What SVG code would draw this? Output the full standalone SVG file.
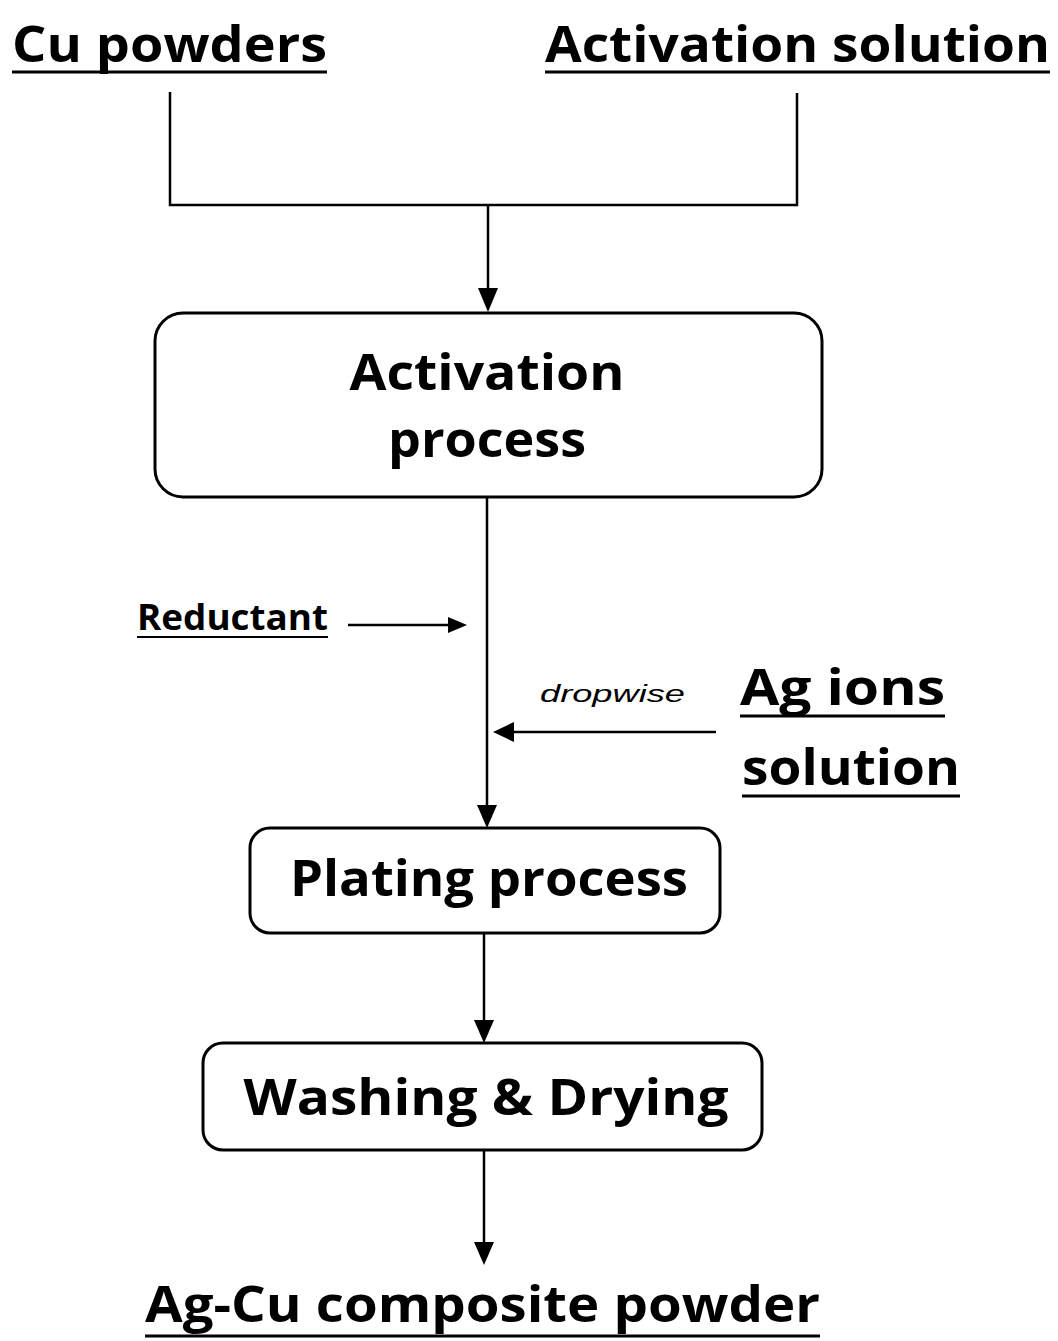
<svg xmlns="http://www.w3.org/2000/svg" width="1058" height="1341" viewBox="0 0 1058 1341">
<style>
.t{font-family:"Open Sans","Liberation Sans",sans-serif;font-weight:bold;fill:#000}
.u{stroke:#000;stroke-width:3;fill:none}
.box{fill:#fff;stroke:#000;stroke-width:3}
.ln{stroke:#000;stroke-width:2.5;fill:none}
</style>
<rect width="1058" height="1341" fill="#fff"/>
<g id="connectors">
<path class="ln" d="M170,92 V205 H797 V93"/>
<line class="ln" x1="488" y1="205" x2="488" y2="288"/>
<path d="M478,288 L498,288 L488,312 z"/>
<line class="ln" x1="487" y1="497" x2="487" y2="805"/>
<path d="M477,805 L497,805 L487,828 z"/>
<line class="ln" x1="348" y1="625" x2="448" y2="625"/>
<path d="M448,617 L467,625 L448,633 z"/>
<line class="ln" x1="716" y1="732" x2="514" y2="732"/>
<path d="M514,722 L493,732 L514,742 z"/>
<line class="ln" x1="484" y1="933" x2="484" y2="1020"/>
<path d="M474,1020 L494,1020 L484,1043 z"/>
<line class="ln" x1="484" y1="1150" x2="484" y2="1242"/>
<path d="M474,1242 L494,1242 L484,1265 z"/>
</g>
<g id="cu-powders">
<text class="t" x="12" y="62" font-size="50" textLength="315" lengthAdjust="spacingAndGlyphs">Cu powders</text>
<line class="u" x1="12" y1="72" x2="327" y2="72"/>
</g>
<g id="activation-solution">
<text class="t" x="545" y="62" font-size="50" textLength="505" lengthAdjust="spacingAndGlyphs">Activation solution</text>
<line class="u" x1="545" y1="72" x2="1050" y2="72"/>
</g>
<g id="activation-process">
<rect class="box" x="155" y="313" width="667" height="184" rx="28"/>
<text class="t" x="487" y="390" font-size="50" text-anchor="middle" textLength="275" lengthAdjust="spacingAndGlyphs">Activation</text>
<text class="t" x="487" y="457" font-size="50" text-anchor="middle" textLength="198" lengthAdjust="spacingAndGlyphs">process</text>
</g>
<g id="reductant">
<text class="t" x="137" y="630" font-size="36" textLength="191" lengthAdjust="spacingAndGlyphs">Reductant</text>
<line x1="137" y1="637" x2="328" y2="637" stroke="#000" stroke-width="2"/>
</g>
<g id="dropwise">
<text x="540" y="702" font-family="Liberation Sans,sans-serif" font-style="italic" font-size="24" textLength="145" lengthAdjust="spacingAndGlyphs">dropwise</text>
</g>
<g id="ag-ions">
<text class="t" x="740" y="705" font-size="50" textLength="205" lengthAdjust="spacingAndGlyphs">Ag ions</text>
<line class="u" x1="740" y1="716" x2="945" y2="716"/>
<text class="t" x="742" y="785" font-size="50" textLength="218" lengthAdjust="spacingAndGlyphs">solution</text>
<line class="u" x1="742" y1="796" x2="960" y2="796"/>
</g>
<g id="plating-process">
<rect class="box" x="250" y="828" width="470" height="105" rx="20"/>
<text class="t" x="489" y="896" font-size="50" text-anchor="middle" textLength="398" lengthAdjust="spacingAndGlyphs">Plating process</text>
</g>
<g id="washing-drying">
<rect class="box" x="203" y="1043" width="559" height="107" rx="20"/>
<text class="t" x="486" y="1115" font-size="50" text-anchor="middle" textLength="485" lengthAdjust="spacingAndGlyphs">Washing &amp; Drying</text>
</g>
<g id="ag-cu-composite">
<text class="t" x="145" y="1322" font-size="50" textLength="675" lengthAdjust="spacingAndGlyphs">Ag-Cu composite powder</text>
<line class="u" x1="145" y1="1336" x2="820" y2="1336"/>
</g>
</svg>
